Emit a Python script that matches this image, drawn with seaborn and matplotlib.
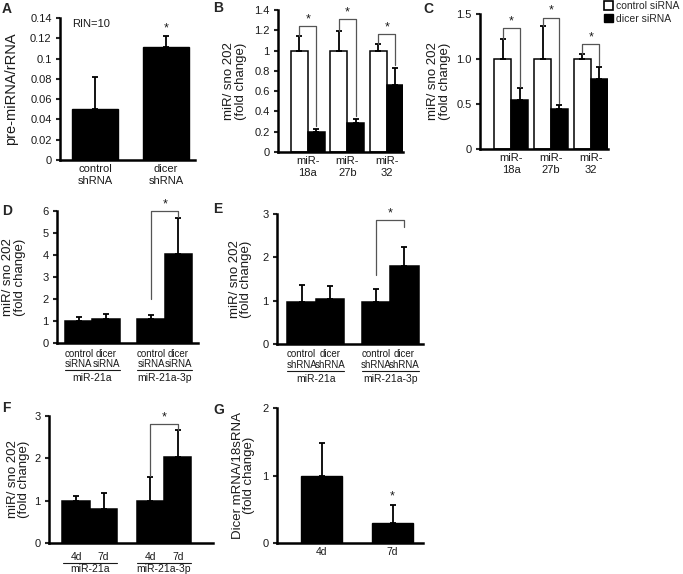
import numpy as np
import pandas as pd
import seaborn as sns
import matplotlib
matplotlib.use("Agg")
import matplotlib.pyplot as plt
from matplotlib.patches import Patch

# data
a_labels = ["control\nshRNA", "dicer\nshRNA"]
a_means = [0.050, 0.111]
a_tops = [0.082, 0.122]

mir_labels = ["miR-\n18a", "miR-\n27b", "miR-\n32"]
b_control = [1.0, 1.0, 1.0]
b_control_top = [1.14, 1.19, 1.065]
b_dicer = [0.195, 0.286, 0.66]
b_dicer_top = [0.225, 0.325, 0.83]
b_bracket = [1.24, 1.31, 1.16]

c_control = [1.0, 1.0, 1.0]
c_control_top = [1.22, 1.37, 1.06]
c_dicer = [0.544, 0.45, 0.774]
c_dicer_top = [0.674, 0.49, 0.915]
c_bracket = [1.34, 1.46, 1.17]

grp_labels = ["miR-21a", "miR-21a-3p"]
d_control = [1.0, 1.1]
d_control_top = [1.18, 1.29]
d_dicer = [1.1, 4.05]
d_dicer_top = [1.33, 5.7]

e_control = [0.98, 0.98]
e_control_top = [1.36, 1.27]
e_dicer = [1.03, 1.79]
e_dicer_top = [1.34, 2.24]

f_4d = [1.0, 1.0]
f_4d_top = [1.11, 1.55]
f_7d = [0.81, 2.04]
f_7d_top = [1.18, 2.68]

g_days = ["4d", "7d"]
g_means = [1.0, 0.30]
g_tops = [1.48, 0.56]

W, H = 683, 574
sns.set_theme(style="ticks")
plt.rcParams["font.family"] = ["Liberation Sans", "DejaVu Sans"]
fig = plt.figure(figsize=(W / 100, H / 100), dpi=100)
TXT = "#1a1a1a"
GREY = "#555555"


def box(x0, x1, yt, yb):
    return fig.add_axes([x0 / W, 1 - yb / H, (x1 - x0) / W, (yb - yt) / H])


def style(ax, ymax, yticks, ylabels, xlim, ylabel, lab_dx, lab_size=9.5):
    ax.set_ylim(0, ymax)
    ax.set_xlim(*xlim)
    ax.set_yticks(yticks)
    ax.set_yticklabels(ylabels)
    for s in ["top", "right"]:
        ax.spines[s].set_visible(False)
    for s in ["left", "bottom"]:
        ax.spines[s].set_linewidth(1.8)
        ax.spines[s].set_color("black")
    ax.tick_params(axis="y", length=3, width=1.5, pad=3, labelsize=8, labelcolor=TXT)
    ax.tick_params(axis="x", length=0, pad=3, labelsize=8, labelcolor=TXT)
    ax.set_xlabel("")
    ax.set_ylabel(ylabel, fontsize=lab_size, color=TXT, linespacing=0.95)
    ax.yaxis.set_label_coords(lab_dx, 0.5)


def centers(ax):
    ps = sorted(ax.patches, key=lambda p: p.get_x())
    return [p.get_x() + p.get_width() / 2 for p in ps], [p.get_height() for p in ps]


def errbars(ax, tops):
    xs, hs = centers(ax)
    up = np.array(tops) - np.array(hs)
    ax.errorbar(xs, hs, yerr=[np.zeros(len(xs)), up], fmt="none", ecolor="black",
                elinewidth=1.3, capsize=2.2, capthick=1.3, zorder=1)
    return xs


def bracket(ax, x1, y1, x2, y2, top):
    ax.plot([x1, x1, x2, x2], [y1, top, top, y2], color=GREY, lw=0.9, clip_on=False)
    ax.annotate("*", ((x1 + x2) / 2, top), xytext=(0, 0.5), textcoords="offset points",
                ha="center", va="bottom", fontsize=9, color=TXT, annotation_clip=False)


def paired(ax, ctrl, dicer, labels, pal, width):
    df = pd.DataFrame({"grp": labels * 2, "val": list(ctrl) + list(dicer),
                       "cond": ["control"] * len(labels) + ["dicer"] * len(labels)})
    sns.barplot(data=df, x="grp", y="val", hue="cond", palette=pal, width=width,
                edgecolor="black", linewidth=1.1, saturation=1, errorbar=None,
                legend=False, ax=ax)


def interleave(a, b):
    return [v for pair in zip(a, b) for v in pair]


def word_labels(ax, xs, words, dy, size=7):
    for i, x in enumerate(xs):
        ax.annotate(words[i % 2], (x, 0), xycoords=("data", "axes fraction"),
                    xytext=(0, -dy * 0.72), textcoords="offset points",
                    ha="center", va="center", fontsize=size, color=TXT, annotation_clip=False)


def underline(ax, xs, half, dy):
    ax_h = ax.get_position().height * H
    yfrac = -dy / ax_h
    for g in range(2):
        ax.plot([xs[2 * g] - half, xs[2 * g + 1] + half], [yfrac, yfrac],
                transform=ax.get_xaxis_transform(), color=TXT, lw=0.8, clip_on=False)


def group_labels(ax, xs, dy):
    for g in range(2):
        ax.annotate(grp_labels[g], ((xs[2 * g] + xs[2 * g + 1]) / 2, 0), xycoords=("data", "axes fraction"),
                    xytext=(0, -dy * 0.72), textcoords="offset points",
                    ha="center", va="center", fontsize=7.5, color=TXT, annotation_clip=False)


# ---- A
ax = box(60, 195, 18, 160)
sns.barplot(x=a_labels, y=a_means, color="black", width=0.65, saturation=1,
            errorbar=None, edgecolor="black", ax=ax)
style(ax, 0.14, np.arange(0, 0.141, 0.02), ["0", "0.02", "0.04", "0.06", "0.08", "0.1", "0.12", "0.14"],
      (-0.5, 1.41), "pre-miRNA/rRNA", -0.31, lab_size=10.5)
xs = errbars(ax, a_tops)
ax.annotate("*", (xs[1], a_tops[1]), xytext=(0, 1), textcoords="offset points",
            ha="center", va="bottom", fontsize=9, color=TXT)
ax.text(0.09, 0.955, "RIN=10", transform=ax.transAxes, fontsize=8, color=TXT, va="center")

# ---- B
ax = box(278, 403, 10, 152)
paired(ax, b_control, b_dicer, mir_labels, ["white", "black"], 0.86)
style(ax, 1.4, np.arange(0, 1.41, 0.2), ["0", "0.2", "0.4", "0.6", "0.8", "1", "1.2", "1.4"],
      (-0.76, 2.41), "miR/ sno 202\n(fold change)", -0.25)
xs = errbars(ax, interleave(b_control_top, b_dicer_top))
for i in range(3):
    bracket(ax, xs[2 * i], b_control_top[i], xs[2 * i + 1], b_dicer_top[i] + 0.03, b_bracket[i])

# ---- C
ax = box(480, 608, 14, 149)
paired(ax, c_control, c_dicer, mir_labels, ["white", "black"], 0.85)
style(ax, 1.5, [0, 0.5, 1.0, 1.5], ["0", "0.5", "1.0", "1.5"],
      (-0.78, 2.43), "miR/ sno 202\n(fold change)", -0.23)
xs = errbars(ax, interleave(c_control_top, c_dicer_top))
for i in range(3):
    bracket(ax, xs[2 * i], c_control_top[i], xs[2 * i + 1], c_dicer_top[i] + 0.02, c_bracket[i])
fig.legend(handles=[Patch(facecolor="white", edgecolor="black", lw=1.2, label="control siRNA"),
                    Patch(facecolor="black", edgecolor="black", label="dicer siRNA")],
           loc="upper left", bbox_to_anchor=(604 / W, 1 - 1 / H), frameon=False, fontsize=7.5,
           handlelength=0.9, handleheight=0.9, handletextpad=0.3, labelspacing=0.25,
           borderpad=0, borderaxespad=0)

# ---- D
ax = box(57, 198, 211, 343)
paired(ax, d_control, d_dicer, grp_labels, ["black", "black"], 0.76)
style(ax, 6, range(7), [str(i) for i in range(7)], (-0.49, 1.46), "miR/ sno 202\n(fold change)", -0.22)
ax.set_xticklabels([])
xs = errbars(ax, interleave(d_control_top, d_dicer_top))
bracket(ax, xs[2], 2.0, xs[3], d_dicer_top[1] + 0.05, 6.0)
word_labels(ax, xs, ["control", "dicer"], 11)
word_labels(ax, xs, ["siRNA", "siRNA"], 21)
underline(ax, xs, 0.19, 26.5)
group_labels(ax, xs, 35)

# ---- E
ax = box(277, 423, 214, 344)
paired(ax, e_control, e_dicer, grp_labels, ["black", "black"], 0.76)
style(ax, 3, range(4), [str(i) for i in range(4)], (-0.52, 1.44), "miR/ sno 202\n(fold change)", -0.17)
ax.set_xticklabels([])
xs = errbars(ax, interleave(e_control_top, e_dicer_top))
bracket(ax, xs[2], 1.6, xs[3], 2.69, 2.87)
word_labels(ax, xs, ["control", "dicer"], 10)
word_labels(ax, xs, ["shRNA", "shRNA"], 21)
underline(ax, xs, 0.19, 26.5)
group_labels(ax, xs, 35)

# ---- F
ax = box(49, 213, 416, 543)
paired(ax, f_4d, f_7d, grp_labels, ["black", "black"], 0.74)
style(ax, 3, range(4), [str(i) for i in range(4)], (-0.55, 1.66), "miR/ sno 202\n(fold change)", -0.115)
ax.set_xticklabels([])
xs = errbars(ax, interleave(f_4d_top, f_7d_top))
bracket(ax, xs[2], 1.58, xs[3], 2.68, 2.8)
word_labels(ax, xs, ["4d", "7d"], 14, size=7.5)
underline(ax, xs, 0.18, 20)
group_labels(ax, xs, 26.5)

# ---- G
ax = box(277, 423, 408, 543)
sns.barplot(x=g_days, y=g_means, color="black", width=0.58, saturation=1,
            errorbar=None, edgecolor="black", ax=ax)
style(ax, 2, [0, 1, 2], ["0", "1", "2"], (-0.63, 1.43), "Dicer mRNA/18sRNA\n(fold change)", -0.15)
ax.tick_params(axis="x", pad=3, labelsize=7.5)
xs = errbars(ax, g_tops)
ax.annotate("*", (xs[1], g_tops[1]), xytext=(0, 2), textcoords="offset points",
            ha="center", va="bottom", fontsize=9, color=TXT)

# panel letters
for lab, x, y in [("A", 2, 9), ("B", 213, 8), ("C", 423, 9), ("D", 2, 211),
                  ("E", 213, 209), ("F", 2, 408), ("G", 213, 410)]:
    fig.text(x / W, 1 - y / H, lab, fontsize=10, fontweight="bold", ha="left", va="center")

fig.savefig("out.png", dpi=100)
